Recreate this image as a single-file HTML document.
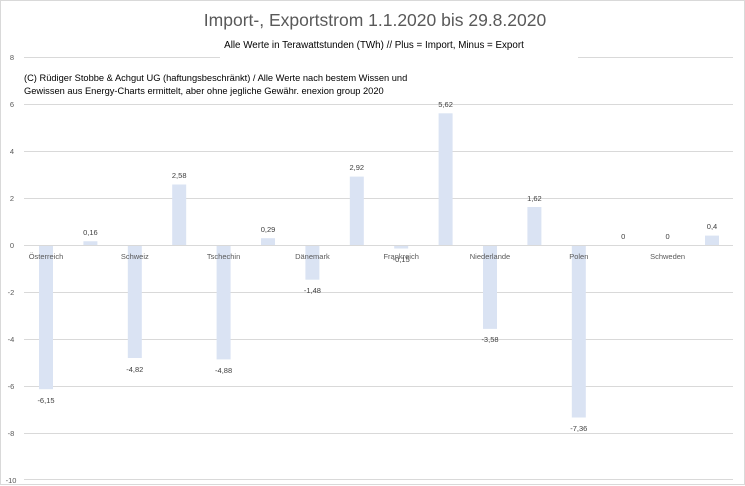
<!DOCTYPE html>
<html><head><meta charset="utf-8"><style>
html,body{margin:0;padding:0;background:#fff}
svg{display:block}
text{font-family:"Liberation Sans",sans-serif}
</style></head><body>
<svg width="745" height="486" viewBox="0 0 745 486" xmlns="http://www.w3.org/2000/svg">
<rect x="0.5" y="0.5" width="744" height="484" fill="#fff" stroke="#d9d9d9"/>
<text x="375" y="26" font-size="17.5" fill="#595959" text-anchor="middle">Import-, Exportstrom 1.1.2020 bis 29.8.2020</text>
<text x="374" y="48" font-size="9.8" fill="#000" text-anchor="middle">Alle Werte in Terawattstunden (TWh) // Plus = Import, Minus = Export</text>
<g stroke="#d9d9d9" stroke-width="1">
<line x1="24" x2="220" y1="57.5" y2="57.5"/><line x1="578" x2="733" y1="57.5" y2="57.5"/>
<line x1="24" x2="733" y1="104.5" y2="104.5"/>
<line x1="24" x2="733" y1="151.5" y2="151.5"/>
<line x1="24" x2="733" y1="198.5" y2="198.5"/>
<line x1="24" x2="733" y1="292.5" y2="292.5"/>
<line x1="24" x2="733" y1="339.5" y2="339.5"/>
<line x1="24" x2="733" y1="386.5" y2="386.5"/>
<line x1="24" x2="733" y1="433.5" y2="433.5"/>
<line x1="24" x2="733" y1="479.5" y2="479.5"/>
</g>
<g font-size="7.5" fill="#595959" text-anchor="middle">
<text x="12" y="60">8</text><text x="12" y="107">6</text><text x="12" y="154">4</text><text x="12" y="201">2</text><text x="12" y="248">0</text>
<text x="11" y="295">-2</text><text x="11" y="342">-4</text><text x="11" y="389">-6</text><text x="11" y="436">-8</text><text x="11" y="483">-10</text>
</g>
<text x="24" y="81" font-size="9.3" fill="#000">(C) Rüdiger Stobbe &amp; Achgut UG (haftungsbeschränkt) / Alle Werte nach bestem Wissen und</text>
<text x="24" y="94" font-size="9.3" fill="#000">Gewissen aus Energy-Charts ermittelt, aber ohne jegliche Gewähr.   enexion group 2020</text>
<g fill="#dae3f3">
<rect x="39" y="245" width="14" height="144.2"/>
<rect x="83.4" y="241.25" width="14" height="3.75"/>
<rect x="127.8" y="245" width="14" height="113"/>
<rect x="172.2" y="184.5" width="14" height="60.5"/>
<rect x="216.6" y="245" width="14" height="114.4"/>
<rect x="261" y="238.2" width="14" height="6.8"/>
<rect x="305.4" y="245" width="14" height="34.7"/>
<rect x="349.8" y="176.6" width="14" height="68.4"/>
<rect x="394.2" y="245" width="14" height="3.5"/>
<rect x="438.6" y="113.3" width="14" height="131.7"/>
<rect x="483" y="245" width="14" height="83.9"/>
<rect x="527.4" y="207" width="14" height="38"/>
<rect x="571.8" y="245" width="14" height="172.5"/>
<rect x="705" y="235.6" width="14" height="9.4"/>
</g>
<line x1="24" x2="733" y1="245.5" y2="245.5" stroke="#d9d9d9"/>
<g font-size="7.5" fill="#404040" text-anchor="middle">
<text x="46" y="403">-6,15</text>
<text x="90.4" y="235">0,16</text>
<text x="134.8" y="372">-4,82</text>
<text x="179.2" y="178">2,58</text>
<text x="223.6" y="373">-4,88</text>
<text x="268" y="232">0,29</text>
<text x="312.4" y="293">-1,48</text>
<text x="356.8" y="170">2,92</text>
<text x="401.2" y="262">-0,15</text>
<text x="445.6" y="107">5,62</text>
<text x="490" y="342">-3,58</text>
<text x="534.4" y="201">1,62</text>
<text x="578.8" y="431">-7,36</text>
<text x="623.2" y="239">0</text>
<text x="667.6" y="239">0</text>
<text x="712" y="229">0,4</text>
</g>
<g font-size="7.5" fill="#595959" text-anchor="middle">
<text x="46" y="259">Österreich</text>
<text x="134.8" y="259">Schweiz</text>
<text x="223.6" y="259">Tschechin</text>
<text x="312.4" y="259">Dänemark</text>
<text x="401.2" y="259">Frankreich</text>
<text x="490" y="259">Niederlande</text>
<text x="578.8" y="259">Polen</text>
<text x="667.6" y="259">Schweden</text>
</g>
</svg>
</body></html>
